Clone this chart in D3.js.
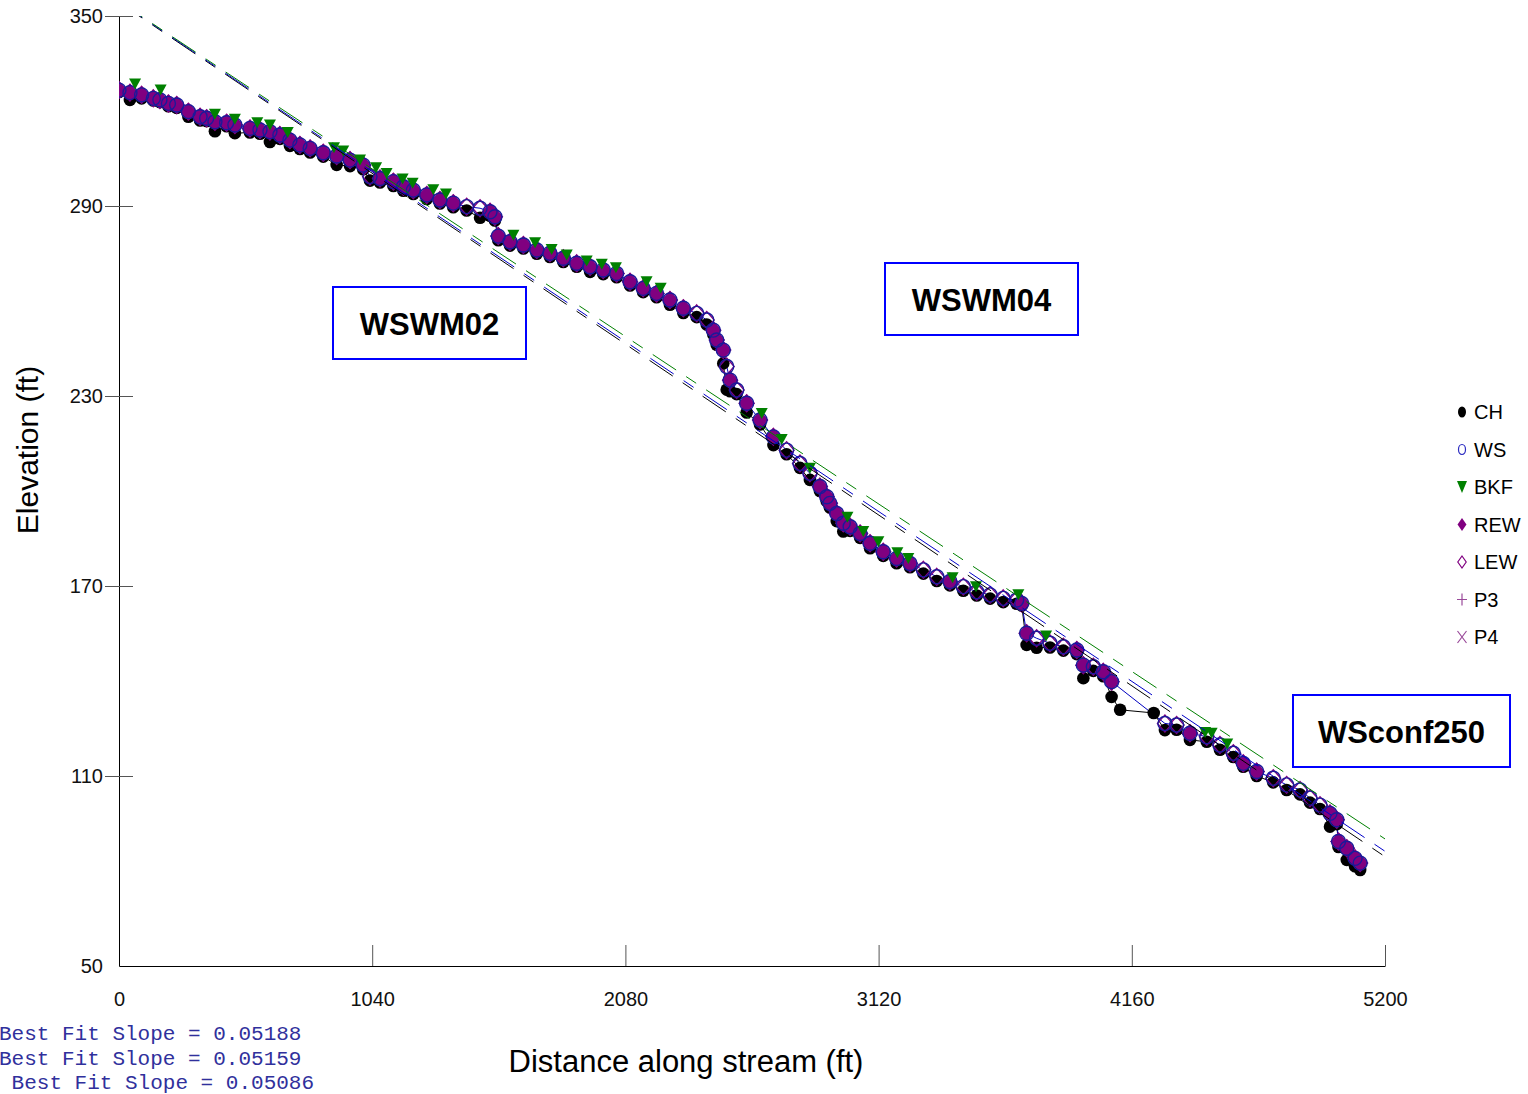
<!DOCTYPE html>
<html><head><meta charset="utf-8">
<script src="https://cdn.jsdelivr.net/npm/d3@7"></script>
<style>body{margin:0;background:#fff}svg{display:block}</style>
</head><body>
<svg id="c" width="1528" height="1094"></svg>
<script>
// ---------- DATA ----------
const xTicks = [0, 1040, 2080, 3120, 4160, 5200];
const yTicks = [50, 110, 170, 230, 290, 350];

const dist = [0,45,93,141,168,203,237,285,333,360,
 394,442,476,538,579,620,661,702,743,785,
 839,894,949,1003,1031,1072,1127,1168,1209,1264,
 1318,1373,1428,1483,1524,1544,1558,1606,1661,1716,
 1770,1825,1880,1935,1989,2044,2099,2153,2208,2263,
 2318,2373,2414,2441,2455,2482,2496,2510,2537,2578,
 2633,2688,2742,2797,2838,2879,2907,2920,2948,2975,
 3003,3044,3085,3139,3194,3249,3304,3359,3413,3468,
 3523,3578,3632,3687,3708,3728,3769,3824,3879,3934,
 3961,4002,4043,4077,4112,4250,4296,4344,4399,4468,
 4522,4577,4618,4673,4741,4796,4851,4892,4933,4974,
 5002,5009,5043,5077,5098];

const chElev = [326.0,323.5,324.0,323.3,322.8,321.5,321.0,318.2,317.0,316.8,
 313.6,315.2,313.0,313.2,312.8,310.2,311.2,309.0,308.0,306.9,
 305.6,303.0,302.6,301.6,298.0,297.4,296.3,294.8,293.8,292.2,
 290.8,289.6,288.6,286.3,286.9,285.4,279.2,277.5,276.6,274.9,
 273.9,272.3,270.8,269.2,268.5,267.5,264.9,262.8,261.2,258.8,
 256.2,254.9,252.6,249.5,246.2,240.3,232.0,231.5,230.6,224.8,
 221.0,214.5,211.6,207.3,203.5,200.0,196.8,194.8,190.5,187.2,
 187.4,185.2,181.9,179.5,177.2,175.9,173.9,171.6,170.2,168.5,
 167.0,166.0,164.9,164.4,163.8,151.4,150.5,150.6,149.6,148.5,
 140.9,143.2,141.5,135.0,130.9,129.9,124.5,124.6,121.4,120.8,
 118.3,116.0,112.9,110.0,108.0,105.6,104.2,101.6,99.6,94.0,
 94.8,87.6,83.5,81.5,80.3];

const wsElev = [326.6,325.8,325.1,324.0,323.5,322.4,321.9,319.8,318.2,317.7,
 316.6,316.3,315.6,314.5,314.0,313.5,312.4,310.8,309.3,308.2,
 306.8,305.8,304.5,302.9,299.3,298.7,297.7,296.1,295.0,293.5,
 291.9,290.9,289.8,289.3,288.2,286.6,280.5,278.7,277.7,276.1,
 275.1,273.5,271.9,270.8,269.8,268.7,266.1,264.0,262.4,260.3,
 257.7,256.1,254.0,250.8,247.7,244.5,239.3,235.0,231.9,227.7,
 222.4,217.1,212.9,208.7,205.6,201.4,198.2,196.1,192.9,189.8,
 188.7,186.6,183.5,180.8,178.7,177.1,175.1,172.9,171.4,169.8,
 168.2,167.2,166.1,165.6,164.5,155.1,153.5,151.9,150.8,149.8,
 145.0,144.5,142.9,139.8,null,null,126.6,126.1,123.5,122.4,
 119.8,117.2,114.0,111.4,109.3,107.2,105.6,103.0,100.8,98.2,
 96.2,89.3,87.2,84.0,82.5];

const rewElev = [326.6,325.8,325.1,324.0,323.5,322.4,321.9,319.8,318.2,317.7,
 316.6,316.3,315.6,314.5,314.0,313.5,312.4,310.8,309.3,308.2,
 306.8,305.8,304.5,302.9,null,298.7,297.7,296.1,295.0,293.5,
 291.9,290.9,null,null,288.2,286.6,280.5,278.7,277.7,276.1,
 275.1,273.5,271.9,270.8,269.8,268.7,266.1,264.0,262.4,260.3,
 257.7,null,null,250.8,247.7,244.5,null,235.0,null,227.7,
 222.4,217.1,null,null,null,201.4,198.2,196.1,192.9,189.8,
 188.7,186.6,183.5,180.8,178.7,177.1,null,null,171.4,null,
 null,null,null,null,164.5,155.1,null,null,null,149.8,
 145.0,null,142.9,139.8,null,null,null,null,123.5,null,
 null,null,114.0,111.4,null,null,null,null,null,98.2,
 96.2,89.3,87.2,84.0,82.5];

const lewElev = [326.6,325.8,325.1,324.0,323.5,322.4,321.9,319.8,318.2,317.7,
 316.6,316.3,315.6,314.5,314.0,313.5,312.4,310.8,309.3,308.2,
 306.8,305.8,304.5,302.9,299.3,298.7,297.7,296.1,295.0,293.5,
 291.9,290.9,289.8,289.3,288.2,286.6,280.5,278.7,277.7,276.1,
 275.1,273.5,271.9,270.8,269.8,268.7,266.1,264.0,262.4,260.3,
 257.7,256.1,254.0,250.8,247.7,244.5,239.3,235.0,231.9,227.7,
 222.4,217.1,212.9,208.7,205.6,201.4,198.2,196.1,192.9,189.8,
 188.7,186.6,183.5,180.8,178.7,177.1,175.1,172.9,171.4,169.8,
 168.2,167.2,166.1,165.6,164.5,155.1,153.5,151.9,150.8,149.8,
 145.0,144.5,142.9,139.8,null,null,126.6,126.1,123.5,122.4,
 119.8,117.2,114.0,111.4,109.3,107.2,105.6,103.0,100.8,98.2,
 96.2,89.3,87.2,84.0,82.5];

const bkfDist = [66,171,394,476,568,620,693,883,921,990,
 1056,1099,1165,1206,1291,1343,1620,1709,1777,1839,
 1921,1983,2041,2167,2225,2640,2722,2838,2992,3057,
 3119,3197,3242,3424,3520,3694,3808,4461,4488,4552];
const bkfElev = [328.5,326.6,319.0,317.4,316.3,315.6,313.2,308.4,307.4,304.5,
 302.1,300.3,298.5,297.2,295.1,293.8,280.8,278.4,276.3,274.5,
 272.6,271.6,270.5,266.1,264.0,224.5,216.3,207.2,191.7,187.2,
 184.0,180.5,178.7,172.6,169.8,167.2,154.2,123.7,123.5,120.1];

const p3Dist = [], p3Elev = [];
const p4Dist = [], p4Elev = [];

const fitSlopes = [0.05188, 0.05159, 0.05086];
const fitIntercepts = [354.3, 354.5, 354.6];
const fitColors = ['#000000', '#0000c8', '#008000'];

const legendLabels = ['CH','WS','BKF','REW','LEW','P3','P4'];
const reachLabels = ['WSWM02','WSWM04','WSconf250'];

// ---------- LAYOUT ----------
const svg = d3.select('#c');
const FONT = 'Liberation Sans, Arial, sans-serif';
const x = d3.scaleLinear().domain([0, 5200]).range([119, 1385]);
const y = d3.scaleLinear().domain([50, 350]).range([966, 16]);

const PURPLE = '#800080', NAVY = '#1a1a9a', GREEN = '#008000';

// axes
const gy = svg.append('g').attr('transform', 'translate(119,0)')
  .call(d3.axisLeft(y).tickValues(yTicks).tickSize(14).tickSizeOuter(0).tickFormat(d3.format('d')));
gy.select('.domain').attr('stroke', '#000');
gy.selectAll('.tick line').attr('x1', 14).attr('x2', -14).attr('stroke', '#555')
  .filter(d => d === 50).remove();
gy.selectAll('.tick text').attr('x', -16).attr('font-size', 20).attr('font-family', FONT).attr('fill', '#111');

const gx = svg.append('g').attr('transform', 'translate(0,966)')
  .call(d3.axisBottom(x).tickValues(xTicks).tickSize(21).tickSizeOuter(0).tickFormat(d3.format('d')));
gx.select('.domain').attr('stroke', '#000');
gx.selectAll('.tick line').attr('y1', 0).attr('y2', -21).attr('stroke', '#555')
  .filter(d => d === 0).remove();
gx.selectAll('.tick text').attr('y', 26).attr('font-size', 20).attr('font-family', FONT).attr('fill', '#111');

// axis titles
svg.append('text').attr('transform', 'translate(38,450) rotate(-90)')
  .attr('text-anchor', 'middle').attr('font-family', FONT).attr('font-size', 30).attr('fill', '#000')
  .text('Elevation (ft)');
svg.append('text').attr('x', 686).attr('y', 1072)
  .attr('text-anchor', 'middle').attr('font-family', FONT).attr('font-size', 31).attr('fill', '#000')
  .text('Distance along stream (ft)');

// plot area
svg.append('clipPath').attr('id', 'clip').append('rect')
  .attr('x', 119).attr('y', 16).attr('width', 1266).attr('height', 950);
const plot = svg.append('g').attr('clip-path', 'url(#clip)');

const idx = d3.range(dist.length);
const chPts = idx.filter(i => chElev[i] != null).map(i => [dist[i], chElev[i]]);
const wsPts = idx.filter(i => wsElev[i] != null).map(i => [dist[i], wsElev[i]]);
const rewPts = idx.filter(i => rewElev[i] != null).map(i => [dist[i], rewElev[i]]);
const lewPts = idx.filter(i => lewElev[i] != null).map(i => [dist[i], lewElev[i]]);
const bkfPts = bkfDist.map((d, i) => [d, bkfElev[i]]);

const line = d3.line().x(d => x(d[0])).y(d => y(d[1]));
plot.append('path').datum(chPts).attr('d', line).attr('fill', 'none').attr('stroke', '#000').attr('stroke-width', 1);
plot.append('path').datum(wsPts).attr('d', line).attr('fill', 'none').attr('stroke', '#0000c0').attr('stroke-width', 1);

const diamond = 'M0,-8.5L7.5,0L0,8.5L-7.5,0Z';
plot.append('g').selectAll('circle').data(chPts).join('circle')
  .attr('cx', d => x(d[0])).attr('cy', d => y(d[1])).attr('r', 6.3).attr('fill', '#000');
plot.append('g').selectAll('path').data(rewPts).join('path')
  .attr('d', diamond).attr('transform', d => `translate(${x(d[0])},${y(d[1])})`)
  .attr('fill', PURPLE).attr('stroke', PURPLE).attr('stroke-width', 1);
plot.append('g').selectAll('path').data(lewPts).join('path')
  .attr('d', diamond).attr('transform', d => `translate(${x(d[0])},${y(d[1])})`)
  .attr('fill', 'none').attr('stroke', PURPLE).attr('stroke-width', 1.3);
plot.append('g').selectAll('circle').data(wsPts).join('circle')
  .attr('cx', d => x(d[0])).attr('cy', d => y(d[1])).attr('r', 7)
  .attr('fill', 'none').attr('stroke', NAVY).attr('stroke-width', 1.4);
plot.append('g').selectAll('path').data(bkfPts).join('path')
  .attr('d', 'M-6,-5.5L6,-5.5L0,5.5Z').attr('transform', d => `translate(${x(d[0])},${y(d[1])})`)
  .attr('fill', GREEN);
plot.append('g').selectAll('path').data(p3Dist.map((d, i) => [d, p3Elev[i]])).join('path')
  .attr('d', 'M-5,0H5M0,-5V5').attr('transform', d => `translate(${x(d[0])},${y(d[1])})`).attr('stroke', PURPLE);
plot.append('g').selectAll('path').data(p4Dist.map((d, i) => [d, p4Elev[i]])).join('path')
  .attr('d', 'M-4,-5L4,5M4,-5L-4,5').attr('transform', d => `translate(${x(d[0])},${y(d[1])})`).attr('stroke', PURPLE);

// best-fit lines
fitSlopes.forEach((s, k) => {
  const b = fitIntercepts[k];
  plot.append('path').datum([[0, b], [5200, b - s * 5200]]).attr('d', line)
    .attr('fill', 'none').attr('stroke', fitColors[k]).attr('stroke-width', 1)
    .attr('stroke-dasharray', '28,12,12,12');
});

// reach labels
const boxLayout = [[333, 287, 193, 72], [885, 263, 193, 72], [1293, 695, 217, 72]];
reachLabels.forEach((t, i) => {
  const [bx, by, bw, bh] = boxLayout[i];
  svg.append('rect').attr('x', bx).attr('y', by).attr('width', bw).attr('height', bh)
    .attr('fill', '#fff').attr('stroke', '#0000ff').attr('stroke-width', 2);
  svg.append('text').attr('x', bx + bw / 2).attr('y', by + bh / 2 + 12)
    .attr('text-anchor', 'middle').attr('font-family', FONT).attr('font-weight', 'bold')
    .attr('font-size', 31).attr('fill', '#000').text(t);
});

// legend
const leg = svg.append('g');
const legSyms = [
  g => g.append('ellipse').attr('rx', 4).attr('ry', 5.5).attr('fill', '#000'),
  g => g.append('ellipse').attr('rx', 3.5).attr('ry', 5).attr('fill', 'none').attr('stroke', '#2a2ac0').attr('stroke-width', 1.2),
  g => g.append('path').attr('d', 'M-5,-6L5,-6L0,6Z').attr('fill', GREEN),
  g => g.append('path').attr('d', 'M0,-6.5L4.5,0L0,6.5L-4.5,0Z').attr('fill', PURPLE),
  g => g.append('path').attr('d', 'M0,-6L4.2,0L0,6L-4.2,0Z').attr('fill', 'none').attr('stroke', PURPLE).attr('stroke-width', 1.2),
  g => g.append('path').attr('d', 'M-5,0H5M0,-6V6').attr('stroke', '#9a4a9a').attr('stroke-width', 1.2),
  g => g.append('path').attr('d', 'M-4.5,-6L4.5,6M4.5,-6L-4.5,6').attr('stroke', '#9a4a9a').attr('stroke-width', 1.2)
];
legendLabels.forEach((t, i) => {
  const cy = 412 + i * 37.5;
  const g = leg.append('g').attr('transform', `translate(1462,${cy})`);
  legSyms[i](g);
  leg.append('text').attr('x', 1474).attr('y', cy + 7).attr('font-family', FONT)
    .attr('font-size', 20).attr('fill', '#000').text(t);
});

// best fit slope text
const slopeOffsets = [-1, -1, 11.6];
fitSlopes.forEach((s, k) => {
  svg.append('text').attr('x', slopeOffsets[k]).attr('y', 1040 + k * 24.5)
    .attr('font-family', 'Liberation Mono, Courier New, monospace').attr('font-size', 21)
    .attr('fill', '#30309c').text('Best Fit Slope = ' + s.toFixed(5));
});
</script>
</body></html>
